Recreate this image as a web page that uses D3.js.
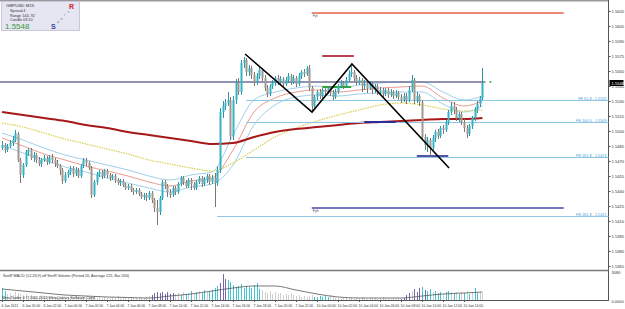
<!DOCTYPE html>
<html>
<head>
<meta charset="utf-8">
<script src="https://cdn.jsdelivr.net/npm/d3@7"></script>
<style>
  body { margin: 0; background: #fff; }
  svg { display: block; }
  text { font-family: "Liberation Sans", Arial, sans-serif; }
</style>
</head>
<body>
<div class="chart"></div>
<script>
// GBPUSD M15 candles
const barOpen = [1.5483,1.5486,1.5481,1.5485,1.5488,1.5491,1.5497,1.5471,1.5456,1.5466,
  1.5479,1.5481,1.5473,1.5476,1.5471,1.5467,1.5471,1.5473,1.5469,1.5474,
  1.5471,1.5468,1.5465,1.5461,1.5450,1.5456,1.5459,1.5463,1.5457,1.5461,
  1.5455,1.5465,1.5471,1.5468,1.5463,1.5436,1.5449,1.5457,1.5459,1.5455,
  1.5460,1.5456,1.5453,1.5455,1.5451,1.5448,1.5450,1.5446,1.5443,1.5445,
  1.5441,1.5439,1.5441,1.5437,1.5434,1.5436,1.5433,1.5438,1.5431,1.5423,
  1.5419,1.5433,1.5449,1.5445,1.5439,1.5436,1.5443,1.5439,1.5447,1.5453,
  1.5449,1.5445,1.5451,1.5447,1.5443,1.5449,1.5453,1.5447,1.5451,1.5455,
  1.5449,1.5453,1.5448,1.5461,1.5519,1.5525,1.5528,1.5531,1.5495,1.5531,
  1.5548,1.5539,1.5568,1.5571,1.5559,1.5563,1.5556,1.5549,1.5555,1.5561,
  1.5553,1.5543,1.5537,1.5545,1.5548,1.5553,1.5549,1.5552,1.5547,1.5551,
  1.5555,1.5549,1.5553,1.5547,1.5555,1.5559,1.5557,1.5563,1.5543,1.5525,
  1.5534,1.5539,1.5535,1.5541,1.5539,1.5543,1.5538,1.5534,1.5539,1.5545,
  1.5548,1.5545,1.5551,1.5557,1.5559,1.5553,1.5549,1.5551,1.5545,1.5547,
  1.5543,1.5547,1.5541,1.5545,1.5539,1.5541,1.5537,1.5541,1.5536,1.5539,
  1.5535,1.5538,1.5534,1.5531,1.5535,1.5531,1.5541,1.5551,1.5531,1.5535,
  1.5529,1.5494,1.5486,1.5491,1.5483,1.5493,1.5499,1.5495,1.5503,1.5501,
  1.5509,1.5519,1.5525,1.5521,1.5513,1.5517,1.5509,1.5503,1.5497,1.5505,
  1.5513,1.5521,1.5527,1.5533];
const barHigh = [1.5490,1.5488,1.5487,1.5491,1.5495,1.5501,1.5499,1.5473,1.5468,1.5481,
  1.5483,1.5483,1.5479,1.5478,1.5474,1.5473,1.5476,1.5475,1.5476,1.5477,
  1.5473,1.5471,1.5467,1.5463,1.5459,1.5461,1.5465,1.5465,1.5464,1.5463,
  1.5467,1.5473,1.5473,1.5470,1.5465,1.5451,1.5459,1.5461,1.5461,1.5462,
  1.5462,1.5458,1.5457,1.5457,1.5453,1.5452,1.5452,1.5448,1.5447,1.5447,
  1.5443,1.5443,1.5443,1.5439,1.5438,1.5438,1.5440,1.5440,1.5433,1.5431,
  1.5435,1.5451,1.5451,1.5447,1.5442,1.5445,1.5445,1.5449,1.5455,1.5455,
  1.5451,1.5453,1.5453,1.5449,1.5451,1.5455,1.5455,1.5454,1.5457,1.5457,
  1.5456,1.5458,1.5465,1.5523,1.5530,1.5532,1.5539,1.5534,1.5535,1.5552,
  1.5553,1.5571,1.5574,1.5573,1.5566,1.5565,1.5559,1.5558,1.5564,1.5563,
  1.5556,1.5546,1.5547,1.5551,1.5555,1.5556,1.5555,1.5554,1.5554,1.5558,
  1.5557,1.5556,1.5555,1.5558,1.5561,1.5562,1.5565,1.5566,1.5545,1.5536,
  1.5541,1.5542,1.5543,1.5544,1.5545,1.5545,1.5541,1.5542,1.5547,1.5551,
  1.5550,1.5554,1.5561,1.5565,1.5561,1.5556,1.5554,1.5553,1.5551,1.5549,
  1.5550,1.5549,1.5547,1.5547,1.5544,1.5543,1.5543,1.5543,1.5542,1.5541,
  1.5541,1.5540,1.5537,1.5538,1.5538,1.5545,1.5556,1.5553,1.5539,1.5537,
  1.5531,1.5497,1.5494,1.5493,1.5496,1.5501,1.5502,1.5505,1.5506,1.5511,
  1.5521,1.5529,1.5529,1.5524,1.5519,1.5519,1.5512,1.5506,1.5507,1.5515,
  1.5524,1.5530,1.5535,1.5563];
const barLow = [1.5481,1.5478,1.5479,1.5483,1.5485,1.5489,1.5469,1.5448,1.5453,1.5464,
  1.5475,1.5471,1.5469,1.5468,1.5465,1.5464,1.5469,1.5466,1.5467,1.5468,
  1.5464,1.5463,1.5456,1.5447,1.5448,1.5453,1.5456,1.5454,1.5455,1.5453,
  1.5453,1.5463,1.5465,1.5461,1.5433,1.5434,1.5446,1.5454,1.5452,1.5453,
  1.5453,1.5450,1.5451,1.5448,1.5446,1.5445,1.5444,1.5441,1.5441,1.5439,
  1.5436,1.5437,1.5435,1.5432,1.5431,1.5430,1.5431,1.5428,1.5419,1.5406,
  1.5416,1.5431,1.5442,1.5434,1.5433,1.5434,1.5436,1.5437,1.5445,1.5446,
  1.5443,1.5443,1.5441,1.5441,1.5441,1.5447,1.5444,1.5445,1.5448,1.5446,
  1.5447,1.5424,1.5445,1.5458,1.5513,1.5521,1.5525,1.5491,1.5491,1.5527,
  1.5536,1.5536,1.5563,1.5555,1.5555,1.5552,1.5545,1.5546,1.5552,1.5550,
  1.5540,1.5534,1.5535,1.5542,1.5545,1.5546,1.5547,1.5544,1.5545,1.5548,
  1.5546,1.5547,1.5544,1.5545,1.5552,1.5554,1.5555,1.5540,1.5519,1.5521,
  1.5531,1.5532,1.5533,1.5536,1.5537,1.5535,1.5531,1.5532,1.5537,1.5543,
  1.5542,1.5543,1.5549,1.5554,1.5550,1.5546,1.5546,1.5539,1.5541,1.5538,
  1.5541,1.5537,1.5538,1.5536,1.5536,1.5534,1.5535,1.5533,1.5534,1.5532,
  1.5533,1.5531,1.5528,1.5529,1.5527,1.5529,1.5539,1.5527,1.5528,1.5525,
  1.5491,1.5481,1.5479,1.5474,1.5481,1.5489,1.5492,1.5493,1.5497,1.5499,
  1.5506,1.5516,1.5517,1.5510,1.5509,1.5506,1.5499,1.5493,1.5495,1.5502,
  1.5510,1.5518,1.5524,1.5531];
const barClose = [1.5486,1.5481,1.5485,1.5488,1.5491,1.5498,1.5471,1.5456,1.5466,1.5479,
  1.5481,1.5473,1.5476,1.5471,1.5467,1.5471,1.5473,1.5469,1.5474,1.5471,
  1.5468,1.5465,1.5461,1.5450,1.5456,1.5459,1.5463,1.5457,1.5461,1.5455,
  1.5465,1.5471,1.5468,1.5463,1.5436,1.5449,1.5457,1.5459,1.5455,1.5460,
  1.5456,1.5453,1.5455,1.5451,1.5448,1.5450,1.5446,1.5443,1.5445,1.5441,
  1.5439,1.5441,1.5437,1.5434,1.5436,1.5433,1.5438,1.5431,1.5423,1.5419,
  1.5433,1.5449,1.5445,1.5439,1.5436,1.5443,1.5439,1.5447,1.5453,1.5449,
  1.5445,1.5451,1.5447,1.5443,1.5449,1.5453,1.5447,1.5451,1.5455,1.5449,
  1.5453,1.5448,1.5461,1.5519,1.5525,1.5528,1.5531,1.5495,1.5531,1.5548,
  1.5539,1.5568,1.5571,1.5559,1.5563,1.5556,1.5549,1.5555,1.5561,1.5553,
  1.5543,1.5537,1.5545,1.5548,1.5553,1.5549,1.5552,1.5547,1.5551,1.5555,
  1.5549,1.5553,1.5547,1.5555,1.5559,1.5557,1.5563,1.5543,1.5525,1.5534,
  1.5539,1.5535,1.5541,1.5539,1.5543,1.5538,1.5534,1.5539,1.5545,1.5548,
  1.5545,1.5551,1.5557,1.5559,1.5553,1.5549,1.5551,1.5545,1.5547,1.5543,
  1.5547,1.5541,1.5545,1.5539,1.5541,1.5537,1.5541,1.5536,1.5539,1.5535,
  1.5538,1.5534,1.5531,1.5535,1.5531,1.5541,1.5551,1.5531,1.5535,1.5529,
  1.5494,1.5486,1.5491,1.5483,1.5493,1.5499,1.5495,1.5503,1.5501,1.5509,
  1.5519,1.5525,1.5521,1.5513,1.5517,1.5509,1.5503,1.5497,1.5505,1.5513,
  1.5521,1.5527,1.5533,1.5548];

// tick volume per bar and its colour class (n normal, t high, p climax)
const volume = [1320,990,660,770,550,880,770,660,550,660,440,550,440,330,440,550,330,440,330,440,
  330,220,330,440,220,330,330,220,440,330,220,330,220,220,330,440,220,330,220,330,
  220,220,330,220,440,220,330,220,220,330,220,220,330,220,220,330,440,550,770,880,
  770,880,660,880,660,770,660,770,550,880,660,770,990,660,880,990,770,1100,880,990,
  1100,1320,1540,1870,2860,2310,2200,1980,1650,1430,1540,1760,1320,1540,1430,1320,1650,1870,1210,1100,
  880,770,990,660,880,660,770,550,660,550,770,550,440,550,330,440,330,440,550,330,
  330,440,330,440,330,550,330,220,220,110,220,330,220,220,110,220,220,330,220,110,
  220,220,220,110,220,330,220,220,110,220,220,220,110,220,550,770,990,1210,880,1320,
  1430,1100,990,1210,880,990,770,880,660,880,990,880,770,880,660,880,770,990,660,880,
  1320,770,880,770];
const volType = ("ttnnnnnnnnnnnnnnnnnnnnnnnnnnnnnnnnnnnnnnnnnnnnnnnnnnnnnnnpppppppppnntntntntnttntttt" +
  "ppptttttttttttttnnnnnnnnnnnnnnnnnnnnttttttnnnnnnnnnnnnnnnnnnnnnnnnnnnppppnpppt" +
  "pttntttnttntntntntnttnnn").split('');
const volAvgIdx = [0,8,16,24,32,40,48,56,64,72,80,88,96,104,112,120,128,136,144,152,160,168,176,183];
const volAvg = [1210,990,770,550,440,330,275,220,440,660,990,1320,1540,1540,1100,660,330,220,220,220,440,660,770,880];

// moving averages sampled every 8 bars
const maIdx = [0,8,16,24,32,40,48,56,64,72,80,88,96,104,112,120,128,136,144,152,160,168,176,183];
const maSlow = [1.5519,1.5516,1.5513,1.5510,1.5506,1.5503,1.5499,1.5496,1.5493,1.5490,1.5487,1.5488,
  1.5494,1.5499,1.5502,1.5504,1.5506,1.5508,1.5509,1.5510,1.5511,1.5512,1.5512,1.5513];
const maMid = [1.5508,1.5504,1.5498,1.5492,1.5487,1.5482,1.5477,1.5471,1.5467,1.5463,1.5460,1.5468,
  1.5481,1.5494,1.5503,1.5510,1.5516,1.5521,1.5526,1.5528,1.5526,1.5522,1.5520,1.5521];
const maUpper = [1.5498,1.5491,1.5483,1.5476,1.5471,1.5466,1.5461,1.5455,1.5451,1.5456,1.5459,1.5496,
  1.5531,1.5539,1.5543,1.5545,1.5543,1.5546,1.5548,1.5549,1.5549,1.5539,1.5531,1.5535];
const maCentre = [1.5493,1.5485,1.5477,1.5471,1.5465,1.5460,1.5455,1.5449,1.5445,1.5450,1.5453,1.5481,
  1.5519,1.5533,1.5539,1.5541,1.5539,1.5541,1.5543,1.5544,1.5545,1.5533,1.5525,1.5530];
const maLower = [1.5486,1.5478,1.5471,1.5464,1.5459,1.5453,1.5448,1.5443,1.5439,1.5444,1.5447,1.5466,
  1.5506,1.5526,1.5534,1.5536,1.5535,1.5537,1.5538,1.5539,1.5539,1.5527,1.5519,1.5525];

// fibo expansion levels
const feRatio = ['61.8', '100.0', '161.8', '261.8'];
const feLevel = [1.5531, 1.5509, 1.5474, 1.5415];
const feStart = [93, 93, 93, 82];

const priceTicks = [1.5620,1.5605,1.5590,1.5575,1.5560,1.5545,1.5530,1.5515,1.5500,1.5485,
  1.5470,1.5455,1.5440,1.5425,1.5410,1.5395,1.5380,1.5365];
const timeLabels = ['6 Jan 2011','6 Jan 20:00','6 Jan 22:00','7 Jan 00:00','7 Jan 02:00','7 Jan 04:00',
  '7 Jan 06:00','7 Jan 08:00','7 Jan 10:00','7 Jan 12:00','7 Jan 14:00','7 Jan 16:00','7 Jan 18:00',
  '7 Jan 20:00','7 Jan 22:00','10 Jan 00:00','10 Jan 02:00','10 Jan 04:00','10 Jan 06:00',
  '10 Jan 08:00','10 Jan 10:00','10 Jan 12:00','10 Jan 14:00'];
const lastPrice = 1.5548;

const W = 625, H = 309;
const axisX = 608.5;
const svg = d3.select('.chart').append('svg').attr('width', W).attr('height', H);
svg.append('rect').attr('width', W).attr('height', H).attr('fill', '#fff');

const x = d3.scaleLinear().domain([0, barClose.length - 1]).range([2, 482.4]);
const y = d3.scaleLinear().domain([1.5366, 1.5621]).range([265, 10]);
const vy = d3.scaleLinear().domain([0, 3080]).range([300, 272]);
const px = i => Math.round(x(i)) + 0.5;

// frame
svg.append('line').attr('x1', 0).attr('x2', axisX).attr('y1', 0.5).attr('y2', 0.5).attr('stroke', '#9a9a9a').attr('stroke-width', 2);
svg.append('line').attr('x1', axisX).attr('x2', axisX).attr('y1', 0).attr('y2', 301).attr('stroke', '#555');
svg.append('line').attr('x1', 0).attr('x2', axisX).attr('y1', 270.5).attr('y2', 270.5).attr('stroke', '#777').attr('stroke-width', 1.5);
svg.append('line').attr('x1', 0).attr('x2', axisX).attr('y1', 300.5).attr('y2', 300.5).attr('stroke', '#555');

// price axis
const axisG = svg.append('g');
priceTicks.forEach(v => {
  const ty = Math.round(y(v)) + 0.5;
  axisG.append('line').attr('x1', axisX).attr('x2', axisX + 2).attr('y1', ty).attr('y2', ty).attr('stroke', '#555');
  axisG.append('text').attr('x', axisX + 3).attr('y', ty + 1.5).attr('font-size', 4.1).attr('fill', '#333').text(v.toFixed(4));
});
axisG.append('rect').attr('x', axisX + 1).attr('y', y(lastPrice) - 3).attr('width', 14).attr('height', 6).attr('fill', '#000');
axisG.append('text').attr('x', axisX + 3).attr('y', y(lastPrice) + 1.5).attr('font-size', 4.1).attr('fill', '#fff').text(lastPrice.toFixed(4));

// time axis
timeLabels.forEach((t, k) => {
  const tx = px(k * 8);
  svg.append('line').attr('x1', tx).attr('x2', tx).attr('y1', 300).attr('y2', 302).attr('stroke', '#555');
  svg.append('text').attr('x', tx - 1).attr('y', 306.5).attr('font-size', 3.4).attr('fill', '#333').text(t);
});

// moving averages
const maLine = vals => d3.line().x((d, k) => x(maIdx[k])).y(d => y(d)).curve(d3.curveMonotoneX)(vals);
svg.append('path').attr('d', maLine(maLower)).attr('fill', 'none').attr('stroke', '#9fd0ea').attr('stroke-width', 1);
svg.append('path').attr('d', maLine(maUpper)).attr('fill', 'none').attr('stroke', '#9fd0ea').attr('stroke-width', 1);
svg.append('path').attr('d', maLine(maCentre)).attr('fill', 'none').attr('stroke', '#eb9a90').attr('stroke-width', 1);
svg.append('path').attr('d', maLine(maMid)).attr('fill', 'none').attr('stroke', '#d9cf55').attr('stroke-width', 1.2).attr('stroke-dasharray', '1.5,1');
svg.append('path').attr('d', maLine(maSlow)).attr('fill', 'none').attr('stroke', '#a81818').attr('stroke-width', 2);

// fibo expansion lines
feLevel.forEach((v, k) => {
  const ly = Math.round(y(v)) + 0.5;
  svg.append('line').attr('x1', x(feStart[k])).attr('x2', axisX).attr('y1', ly).attr('y2', ly).attr('stroke', '#8ec6e6').attr('stroke-width', 1);
  svg.append('text').attr('x', axisX - 2).attr('y', ly - 1).attr('text-anchor', 'end').attr('font-size', 3.8).attr('fill', '#4aa0d8')
    .text('FE ' + feRatio[k] + ' - ' + v.toFixed(4));
});

// pivot lines and short level markers
const seg = (i1, i2, v, col, w) => svg.append('line').attr('x1', x(i1)).attr('x2', x(i2))
  .attr('y1', y(v)).attr('y2', y(v)).attr('stroke', col).attr('stroke-width', w);
seg(118, 214, 1.5618, '#e8604c', 1.6);
seg(118, 214, 1.5423, '#4848a8', 1.6);
svg.append('text').attr('x', x(118) + 1).attr('y', y(1.5618) + 4).attr('font-size', 3.5).attr('fill', '#555').text('Fpl');
svg.append('text').attr('x', x(118) + 1).attr('y', y(1.5423) + 4).attr('font-size', 3.5).attr('fill', '#555').text('Fph');
seg(122, 134, 1.5575, '#a8102c', 1.6);
seg(122, 133, 1.5544, '#2ea82e', 2);
seg(138, 150, 1.5509, '#2c2c9a', 2);
seg(158, 170, 1.5475, '#1c1c88', 1.6);

// last price line
svg.append('line').attr('x1', 0).attr('x2', x(183) + 3).attr('y1', y(1.5549)).attr('y2', y(1.5549))
  .attr('stroke', '#6e6e98').attr('stroke-width', 1.3);
svg.append('circle').attr('cx', x(183) + 8).attr('cy', y(1.5549)).attr('r', 1).attr('fill', '#2fbf2f');

// candles
const candles = svg.append('g');
barClose.forEach((c, i) => {
  const o = barOpen[i];
  const up = c >= o;
  const col = up ? '#35b3c6' : '#a2978f';
  const cx = px(i);
  candles.append('line').attr('x1', cx).attr('x2', cx).attr('y1', y(barHigh[i])).attr('y2', y(barLow[i]))
    .attr('stroke', up ? '#2a95a8' : '#7f756d').attr('stroke-width', 1);
  const top = y(Math.max(o, c)), bot = y(Math.min(o, c));
  candles.append('rect').attr('x', cx - 1).attr('y', top).attr('width', 2).attr('height', Math.max(1, bot - top)).attr('fill', col);
});

// trend lines
const trend = [[92.6, 1.5577], [118.1, 1.5519], [133.3, 1.5567], [170.3, 1.5463]];
svg.append('path').attr('d', d3.line().x(d => x(d[0])).y(d => y(d[1]))(trend))
  .attr('fill', 'none').attr('stroke', '#000').attr('stroke-width', 1.6);

// volume panel
const volColor = { n: '#cfcfcf', t: '#45c4cf', p: '#7a66b0' };
volume.forEach((v, i) => {
  const cx = px(i);
  svg.append('line').attr('x1', cx).attr('x2', cx).attr('y1', vy(v)).attr('y2', 300)
    .attr('stroke', volColor[volType[i]] || '#cfcfcf').attr('stroke-width', 1);
});
svg.append('path').attr('d', d3.line().x((d, k) => x(volAvgIdx[k])).y(d => vy(d)).curve(d3.curveMonotoneX)(volAvg))
  .attr('fill', 'none').attr('stroke', '#555').attr('stroke-width', 0.8);
svg.append('text').attr('x', 3).attr('y', 277).attr('font-size', 3.8).attr('fill', '#333')
  .text('SonR MACD (12,26,9) off     SonR Volume (Period 20, Average 225, Bar 200)');
svg.append('text').attr('x', 2).attr('y', 299).attr('font-size', 3.8).attr('fill', '#333')
  .text('MetaTrader 4 \u00a9 2001-2011 MetaQuotes Software Corp.');
svg.append('text').attr('x', axisX + 3).attr('y', 274).attr('font-size', 4).attr('fill', '#333').text('3080');
svg.append('text').attr('x', axisX + 3).attr('y', 303).attr('font-size', 4).attr('fill', '#333').text('0.0000');

// info box
const box = svg.append('g');
box.append('rect').attr('x', 1.5).attr('y', 1.5).attr('width', 78).attr('height', 29).attr('fill', '#e6e6f2').attr('stroke', '#c8c8d8');
box.append('text').attr('x', 6).attr('y', 7).attr('font-size', 4.4).attr('fill', '#333').text('GBPUSD   M15');
box.append('text').attr('x', 10).attr('y', 12).attr('font-size', 3.8).attr('fill', '#333').text('Spread   4');
box.append('text').attr('x', 10).attr('y', 16.5).attr('font-size', 3.8).attr('fill', '#333').text('Range   144, 92');
box.append('text').attr('x', 10).attr('y', 21).attr('font-size', 3.8).attr('fill', '#333').text('Candle  03:10');
box.append('text').attr('x', 5).attr('y', 28.5).attr('font-size', 8).attr('fill', '#3a9a3a').text(lastPrice.toFixed(4));
box.append('text').attr('x', 51).attr('y', 28.5).attr('font-size', 7).attr('font-weight', 'bold').attr('fill', '#3040a0').text('S');
['o', 'n', 'i', 'c'].forEach((ch, k) => box.append('text').attr('x', 57 + k * 3.5).attr('y', 23 - k * 3.5)
  .attr('font-size', 4).attr('fill', '#777').text(ch));
box.append('text').attr('x', 69).attr('y', 8.5).attr('font-size', 7).attr('font-weight', 'bold').attr('fill', '#d02020').text('R');
</script>
</body>
</html>
